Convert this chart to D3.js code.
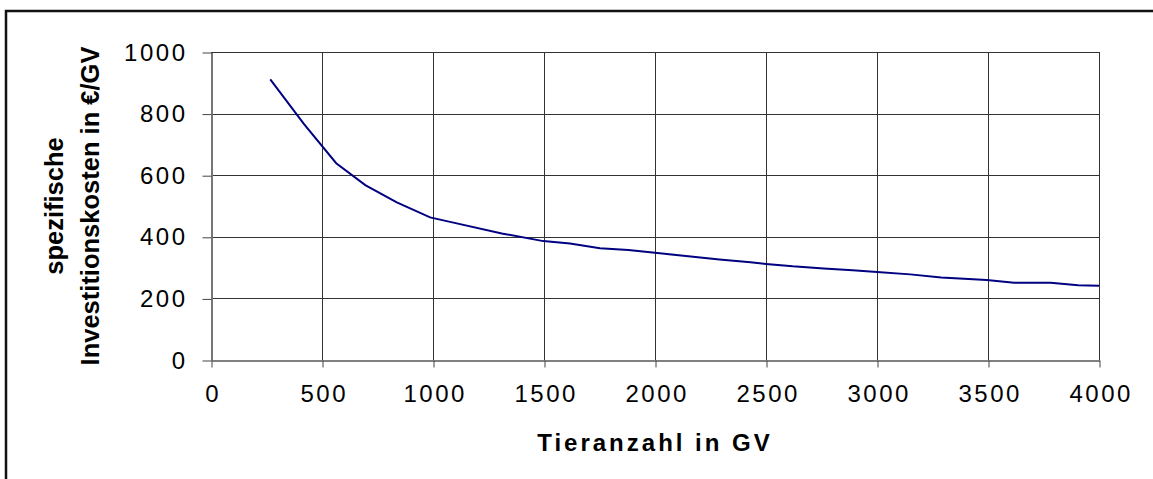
<!DOCTYPE html>
<html>
<head>
<meta charset="utf-8">
<script src="https://cdn.jsdelivr.net/npm/d3@7"></script>
<style>
  body { margin: 0; background: #fff; }
  text { font-family: "Liberation Sans", Arial, sans-serif; fill: #000; }
</style>
</head>
<body>
<div class="chart"></div>
<script>
// Tieranzahl (GV) und spezifische Investitionskosten (€/GV)
const tierzahl = [267, 420, 564, 695, 837, 987, 1092, 1310, 1497, 1617, 1752, 1880, 2000, 2150,
                  2290, 2430, 2500, 2620, 2760, 2890, 3000, 3150, 3289, 3494, 3618, 3782, 3906, 4000];
const kosten = [911, 765, 639, 568, 512, 463, 446, 411, 386, 378, 363, 357, 348, 337,
                326, 317, 312, 304, 297, 291, 286, 278, 268, 260, 251, 251, 243, 241];
const xTicks = [0, 500, 1000, 1500, 2000, 2500, 3000, 3500, 4000];
const yTicks = [0, 200, 400, 600, 800, 1000];

const data = tierzahl.map((x, i) => ({x: x, y: kosten[i]}));

const width = 1153, height = 479;
const plot = {left: 211, right: 1099, top: 52, bottom: 360};

const svg = d3.select(".chart").append("svg")
    .attr("width", width)
    .attr("height", height);

// outer frame (runs off the right/bottom edge like the original)
svg.append("rect")
    .attr("x", 6).attr("y", 11)
    .attr("width", 1170).attr("height", 490)
    .attr("fill", "none")
    .attr("stroke", "#111")
    .attr("stroke-width", 2.5);

const xScale = d3.scaleLinear()
    .domain([0, 4000])
    .range([plot.left, plot.right]);

const yScale = d3.scaleLinear()
    .domain([0, 1000])
    .range([plot.bottom, plot.top]);

// gridlines
svg.append("g")
    .attr("stroke", "#333")
    .attr("stroke-width", 1)
    .selectAll("line.v")
    .data(xTicks.slice(1))
    .join("line")
    .attr("x1", d => Math.round(xScale(d)) + 0.5)
    .attr("x2", d => Math.round(xScale(d)) + 0.5)
    .attr("y1", plot.top)
    .attr("y2", plot.bottom);

svg.append("g")
    .attr("stroke", "#333")
    .attr("stroke-width", 1)
    .selectAll("line.h")
    .data(yTicks.slice(1))
    .join("line")
    .attr("x1", plot.left)
    .attr("x2", plot.right)
    .attr("y1", d => Math.round(yScale(d)) + 0.5)
    .attr("y2", d => Math.round(yScale(d)) + 0.5);

const xAxis = d3.axisBottom(xScale)
    .tickValues(xTicks)
    .tickSize(7)
    .tickSizeOuter(0)
    .tickPadding(17)
    .tickFormat(d3.format("d"));

const yAxis = d3.axisLeft(yScale)
    .tickValues(yTicks)
    .tickSize(9)
    .tickSizeOuter(0)
    .tickPadding(15)
    .tickFormat(d3.format("d"));

svg.append("g")
    .attr("class", "axis x-axis")
    .attr("transform", `translate(0.5,${plot.bottom + 0.5})`)
    .call(xAxis)
    .call(g => g.select(".domain").attr("stroke", "#000"))
    .call(g => g.selectAll(".tick line").attr("stroke", "#444"))
    .call(g => g.selectAll(".tick text")
        .attr("font-size", 24)
        .attr("letter-spacing", "2.5px")
        .attr("dx", "1.2px")
        .attr("font-family", "Liberation Sans, Arial, sans-serif"));

svg.append("g")
    .attr("class", "axis y-axis")
    .attr("transform", `translate(${plot.left + 0.5},0.5)`)
    .call(yAxis)
    .call(g => g.select(".domain").attr("stroke", "#777").attr("stroke-width", 2))
    .call(g => g.selectAll(".tick line").attr("stroke", "#444"))
    .call(g => g.selectAll(".tick text")
        .attr("font-size", 24)
        .attr("letter-spacing", "2.5px")
        .attr("font-family", "Liberation Sans, Arial, sans-serif"));

// axis titles
svg.append("text")
    .attr("text-anchor", "middle")
    .attr("x", (plot.left + plot.right) / 2)
    .attr("y", 451)
    .attr("font-size", 24)
    .attr("font-weight", "bold")
    .attr("letter-spacing", "3px")
    .text("Tieranzahl in GV");

const yTitle = svg.append("text")
    .attr("text-anchor", "middle")
    .attr("transform", `translate(0,${(plot.top + plot.bottom) / 2}) rotate(-90)`)
    .attr("font-size", 25.5)
    .attr("font-weight", "bold");

yTitle.append("tspan").attr("x", 0).attr("y", 63).text("spezifische");
yTitle.append("tspan").attr("x", 0).attr("y", 99).text("Investitionskosten in €/GV");

// curve
const line = d3.line()
    .x(d => xScale(d.x))
    .y(d => yScale(d.y));

svg.append("path")
    .datum(data)
    .attr("fill", "none")
    .attr("stroke", "#000080")
    .attr("stroke-width", 2)
    .attr("d", line);
</script>
</body>
</html>
